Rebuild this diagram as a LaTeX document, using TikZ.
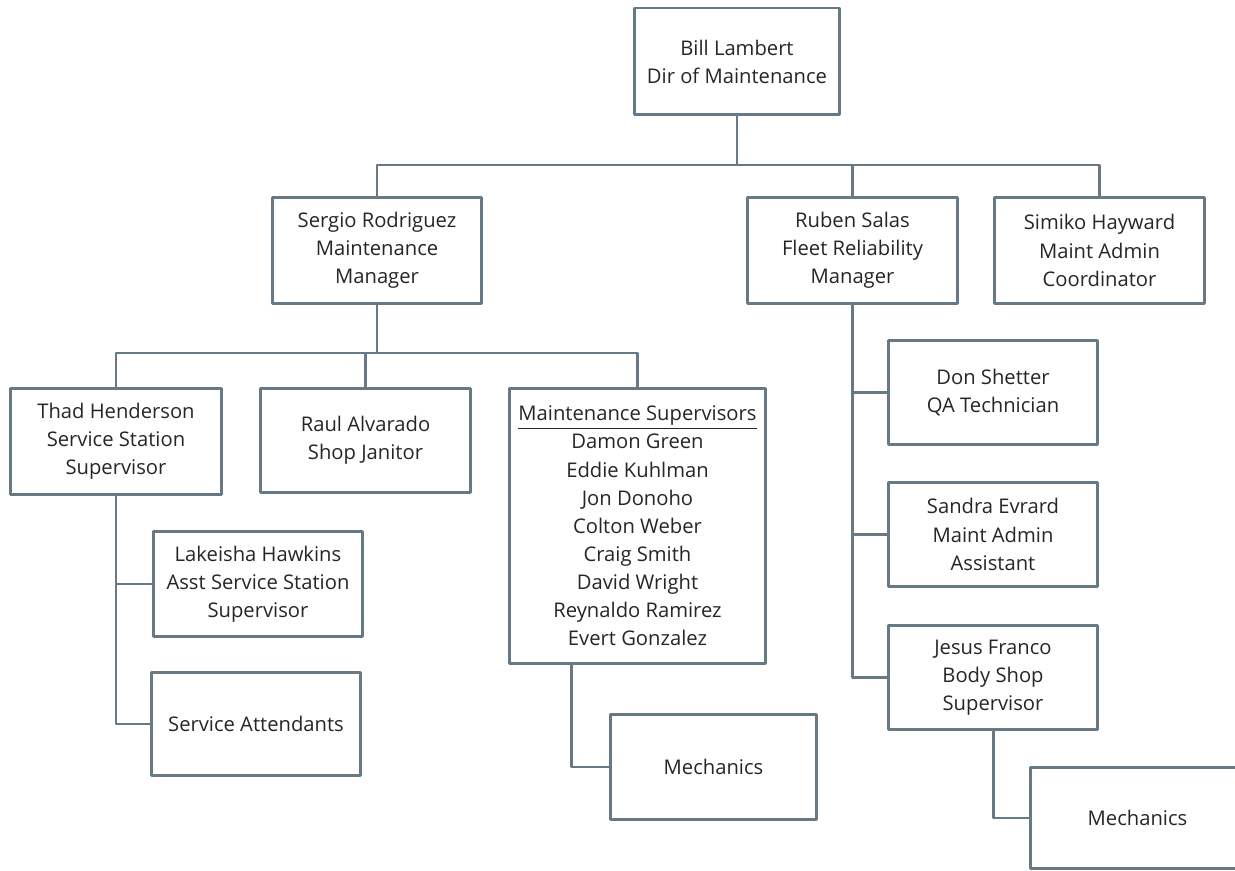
\documentclass[tikz,border=0pt]{standalone}
\usepackage{fontspec}
\setmainfont{Open Sans}
\definecolor{linegray}{HTML}{687986}
\definecolor{txtgray}{HTML}{262626}
\tikzset{
  box/.style={draw=linegray, line width=1.7pt, fill=white, text=txtgray,
    align=center, inner sep=2pt, minimum width=4.2cm, minimum height=2.14cm},
  link/.style={draw=linegray, line width=1.7pt}
}
\begin{document}
\begin{tikzpicture}[x=0.02cm, y=-0.02cm, line join=round,
  font=\fontsize{11.5}{16}\selectfont]
	\useasboundingbox (0,0) rectangle (1235,871);
	% top level
	\node[box, minimum width=4.1cm] (bill) at (737,61.5) {Bill Lambert\\Dir of Maintenance};
	\node[box] (sergio) at (377,250.5) {Sergio Rodriguez\\Maintenance\\Manager};
	\node[box] (ruben) at (852.5,250.5) {Ruben Salas\\Fleet Reliability\\Manager};
	\node[box] (simiko) at (1099.5,250.5) {Simiko Hayward\\Maint Admin\\Coordinator};
	\coordinate (bar1) at (737,165);
	\draw[link] (bill.south) -- (bar1);
	\draw[link] (sergio.north) |- (bar1) -| (simiko.north);
	\draw[link] (ruben.north) -- (ruben.north |- bar1);
	% Sergio's group
	\node[box, minimum width=4.24cm] (thad) at (116,441.5) {Thad Henderson\\Service Station\\Supervisor};
	\node[box, minimum height=2.1cm] (raul) at (365.5,440.5) {Raul Alvarado\\Shop Janitor};
	\node[box, minimum width=5.14cm, minimum height=5.52cm] (sup) at (637.5,526)
	  {\underline{Maintenance Supervisors}\\Damon Green\\Eddie Kuhlman\\Jon Donoho\\Colton Weber\\Craig Smith\\David Wright\\Reynaldo Ramirez\\Evert Gonzalez};
	\coordinate (bar2) at (377,353);
	\draw[link] (sergio.south) -- (bar2);
	\draw[link] (thad.north) |- (bar2) -| (sup.north);
	\draw[link] (raul.north) -- (raul.north |- bar2);
	\node[box, minimum height=2.12cm] (lakeisha) at (258,584) {Lakeisha Hawkins\\Asst Service Station\\Supervisor};
	\node[box, minimum height=2.08cm] (attend) at (256,724) {Service Attendants};
	\draw[link] (thad.south) |- (attend.west);
	\draw[link] (thad.south |- lakeisha.west) -- (lakeisha.west);
	\node[box, minimum width=4.14cm, minimum height=2.12cm] (mech1) at (713.5,767) {Mechanics};
	\draw[link] ([xshift=1.28cm]sup.south west) |- (mech1.west);
	% Ruben's group
	\node[box, minimum height=2.1cm] (don) at (993,392.5) {Don Shetter\\QA Technician};
	\node[box, minimum height=2.1cm] (sandra) at (993,534.5) {Sandra Evrard\\Maint Admin\\Assistant};
	\node[box, minimum height=2.1cm] (jesus) at (993,677.5) {Jesus Franco\\Body Shop\\Supervisor};
	\draw[link] (ruben.south) |- (jesus.west);
	\foreach \nut in {don,sandra}
	  \draw[link] (ruben.south |- \nut.west) -- (\nut.west);
	\node[box, minimum width=4.3cm, minimum height=2.04cm] (mech2) at (1137.5,818) {Mechanics};
	\draw[link] (jesus.south) |- (mech2.west);
\end{tikzpicture}
\end{document}
